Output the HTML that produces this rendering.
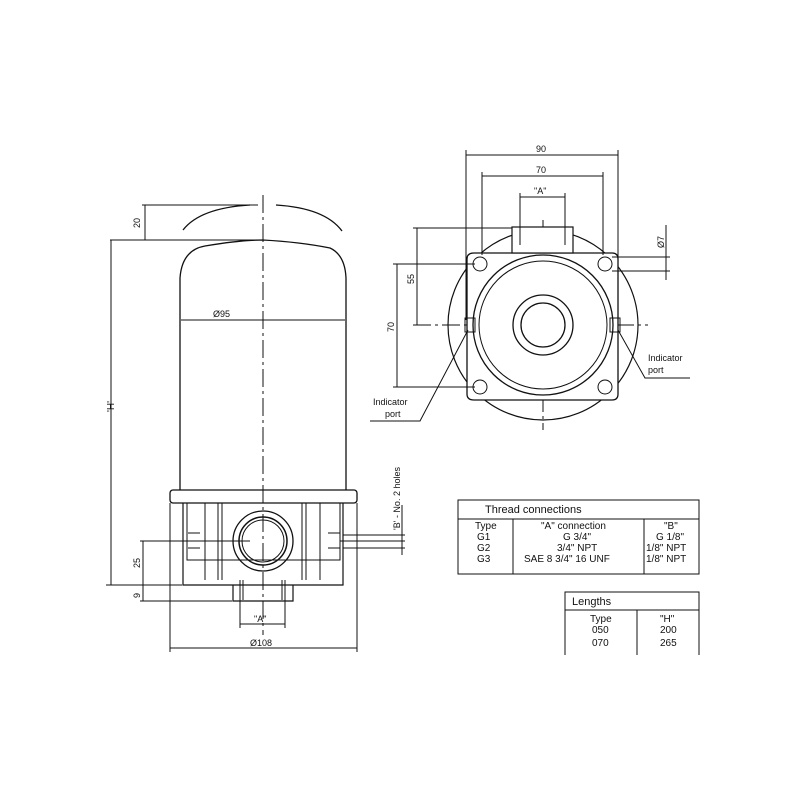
<!DOCTYPE html>
<html><head><style>body{margin:0;background:#fff}svg{display:block}text{font-family:"Liberation Sans",sans-serif;fill:#111}</style></head>
<body>
<svg width="800" height="800" viewBox="0 0 800 800" xmlns="http://www.w3.org/2000/svg" stroke="#111" fill="none" stroke-width="1">
<!-- LEFT VIEW -->
<line x1="263" y1="195" x2="263" y2="635" stroke-dasharray="18,4,3,4"/>
<path d="M183 230 Q200 208 250 205 M276 205 Q325 208 342 231" stroke-width="1.3"/>
<line x1="142" y1="205" x2="258" y2="205"/>
<line x1="110" y1="240" x2="262" y2="240"/>
<line x1="145" y1="205" x2="145" y2="240"/>
<path d="M180 490 L180 278 Q182 250 205 246 Q240 240 263 240 Q300 242 330 248 Q345 255 346 278 L346 490" stroke-width="1.3"/>
<line x1="181" y1="320" x2="345" y2="320"/>
<text x="213" y="317" font-size="9" stroke="none">Ø95</text>
<rect x="170" y="490" width="187" height="13" rx="3" stroke-width="1.3"/>
<path d="M183 503 L183 585 L343 585 L343 503" stroke-width="1.2"/>
<path d="M187 503 L187 560 L340 560 L340 503"/>
<line x1="205" y1="503" x2="205" y2="580"/><line x1="218" y1="503" x2="218" y2="580"/><line x1="222" y1="503" x2="222" y2="580"/>
<line x1="302" y1="503" x2="302" y2="580"/><line x1="306" y1="503" x2="306" y2="580"/><line x1="320" y1="503" x2="320" y2="580"/>
<line x1="188" y1="533" x2="200" y2="533"/><line x1="188" y1="548" x2="200" y2="548"/>
<line x1="328" y1="533" x2="340" y2="533"/><line x1="328" y1="548" x2="340" y2="548"/>
<circle cx="263" cy="541" r="30" stroke-width="1.3"/>
<circle cx="263" cy="541" r="24" stroke-width="1.5"/>
<circle cx="263" cy="541" r="21"/>
<path d="M233 585 L233 601 L293 601 L293 585" stroke-width="1.2"/>
<line x1="240" y1="580" x2="240" y2="628"/><line x1="243" y1="580" x2="243" y2="600"/>
<line x1="285" y1="580" x2="285" y2="628"/><line x1="282" y1="580" x2="282" y2="600"/>
<line x1="240" y1="624" x2="285" y2="624"/>
<text x="254" y="622" font-size="9" stroke="none">"A"</text>
<line x1="170" y1="503" x2="170" y2="652"/><line x1="357" y1="503" x2="357" y2="652"/>
<line x1="170" y1="648" x2="357" y2="648"/>
<text x="250" y="646" font-size="9" stroke="none">Ø108</text>
<line x1="111" y1="240" x2="111" y2="585"/>
<line x1="106" y1="585" x2="182" y2="585"/>
<text transform="translate(114,412) rotate(-90)" font-size="10" stroke="none">'H'</text>
<line x1="140" y1="541" x2="250" y2="541"/>
<line x1="143" y1="541" x2="143" y2="601"/>
<line x1="140" y1="601" x2="232" y2="601"/>
<text transform="translate(140,568) rotate(-90)" font-size="9" stroke="none">25</text>
<text transform="translate(140,598) rotate(-90)" font-size="9" stroke="none">9</text>
<text transform="translate(140,228) rotate(-90)" font-size="9" stroke="none">20</text>
<line x1="343" y1="535" x2="405" y2="535"/><line x1="340" y1="541" x2="405" y2="541"/><line x1="343" y1="548" x2="405" y2="548"/>
<line x1="402" y1="505" x2="402" y2="555"/>
<text transform="translate(400,530) rotate(-90)" font-size="9" stroke="none">'B' - No. 2 holes</text>
<!-- RIGHT VIEW -->
<line x1="543" y1="220" x2="543" y2="430" stroke-dasharray="18,4,3,4"/>
<line x1="413" y1="325" x2="648" y2="325" stroke-dasharray="18,4,3,4"/>
<circle cx="543" cy="325" r="95" stroke-width="1.2"/>
<path d="M474 253 L612 253 Q618 253 618 259 L618 394 Q618 400 612 400 L474 400 Q467 400 467 394 L467 259 Q467 253 474 253 Z" fill="#fff" stroke-width="1.3"/>
<rect x="512" y="227" width="61" height="26" fill="#fff" stroke-width="1.2"/>
<circle cx="543" cy="325" r="70" stroke-width="1.3"/>
<circle cx="543" cy="325" r="64"/>
<circle cx="543" cy="325" r="30" stroke-width="1.3"/>
<circle cx="543" cy="325" r="22" stroke-width="1.3"/>
<circle cx="480" cy="264" r="7"/><circle cx="605" cy="264" r="7"/>
<circle cx="480" cy="387" r="7"/><circle cx="605" cy="387" r="7"/>
<rect x="465" y="318" width="10" height="14"/><rect x="610" y="318" width="10" height="14"/>
<line x1="466" y1="150" x2="466" y2="320"/><line x1="618" y1="150" x2="618" y2="300"/>
<line x1="466" y1="155" x2="618" y2="155"/>
<text x="536" y="152" font-size="9" stroke="none">90</text>
<line x1="482" y1="172" x2="482" y2="255"/><line x1="603" y1="172" x2="603" y2="255"/>
<line x1="482" y1="176" x2="603" y2="176"/>
<text x="536" y="173" font-size="9" stroke="none">70</text>
<line x1="520" y1="193" x2="520" y2="245"/><line x1="565" y1="193" x2="565" y2="245"/>
<line x1="520" y1="197" x2="565" y2="197"/>
<text x="534" y="194" font-size="9" stroke="none">"A"</text>
<line x1="413" y1="228" x2="512" y2="228"/>
<line x1="417" y1="228" x2="417" y2="325"/>
<text transform="translate(414,284) rotate(-90)" font-size="9" stroke="none">55</text>
<line x1="393" y1="264" x2="475" y2="264"/>
<line x1="393" y1="387" x2="475" y2="387"/>
<line x1="397" y1="264" x2="397" y2="387"/>
<text transform="translate(394,332) rotate(-90)" font-size="9" stroke="none">70</text>
<line x1="612" y1="257" x2="670" y2="257"/><line x1="612" y1="271" x2="670" y2="271"/>
<line x1="666" y1="225" x2="666" y2="280"/>
<text transform="translate(664,248) rotate(-90)" font-size="9" stroke="none">Ø7</text>
<path d="M468 330 L420 421 L370 421"/>
<text x="373" y="405" font-size="9" stroke="none">Indicator</text>
<text x="385" y="417" font-size="9" stroke="none">port</text>
<path d="M618 330 L645 378 L690 378"/>
<text x="648" y="361" font-size="9" stroke="none">Indicator</text>
<text x="648" y="373" font-size="9" stroke="none">port</text>
<!-- TABLES -->
<rect x="458" y="500" width="241" height="74"/>
<line x1="458" y1="519" x2="699" y2="519"/>
<line x1="513" y1="519" x2="513" y2="574"/><line x1="644" y1="519" x2="644" y2="574"/>
<g font-size="10" stroke="none" fill="#111">
<text x="485" y="513" font-size="11">Thread connections</text>
<text x="475" y="529">Type</text><text x="477" y="540">G1</text><text x="477" y="551">G2</text><text x="477" y="571" dy="-9">G3</text>
<text x="541" y="529">"A" connection</text><text x="563" y="540">G 3/4"</text><text x="557" y="551">3/4" NPT</text><text x="524" y="562">SAE 8  3/4"  16 UNF</text>
<text x="664" y="529">"B"</text><text x="656" y="540">G 1/8"</text><text x="646" y="551">1/8" NPT</text><text x="646" y="562">1/8" NPT</text>
<text x="572" y="605" font-size="11">Lengths</text>
<text x="590" y="622">Type</text><text x="592" y="633">050</text><text x="592" y="646">070</text>
<text x="660" y="622">"H"</text><text x="660" y="633">200</text><text x="660" y="646">265</text>
</g>
<path d="M565 655 L565 592 L699 592 L699 655"/>
<line x1="565" y1="610" x2="699" y2="610"/>
<line x1="637" y1="610" x2="637" y2="655"/>
</svg>
</body></html>
